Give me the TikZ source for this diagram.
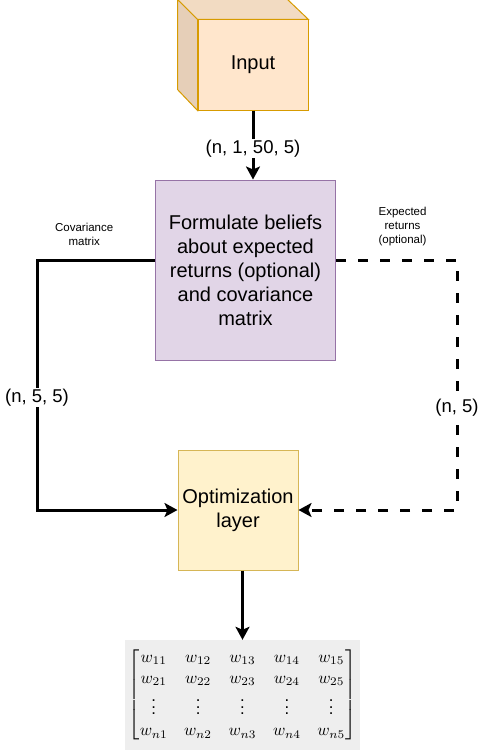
\documentclass[tikz,border=0pt]{standalone}
\usepackage{amsmath}
\usepackage{graphicx}
\usepackage[no-math]{fontspec}
\setmainfont{Liberation Sans}
\usetikzlibrary{arrows.meta,positioning}

\definecolor{inFill}{HTML}{FFE6CC}
\definecolor{inTop}{HTML}{F2DBC2}
\definecolor{inSide}{HTML}{E6CFB8}
\definecolor{inLine}{HTML}{D79B00}
\definecolor{belFill}{HTML}{E1D5E7}
\definecolor{belLine}{HTML}{9673A6}
\definecolor{optFill}{HTML}{FFF2CC}
\definecolor{optLine}{HTML}{D6B656}
\definecolor{matFill}{HTML}{EEEEEE}

\begin{document}
\begin{tikzpicture}[x=1pt,y=-1pt,
    box/.style={draw,line width=1pt,align=center,inner sep=0pt,
      font=\fontsize{20}{24}\selectfont},
    arr/.style={line width=3pt,-{Stealth[length=13pt,width=14pt,inset=3pt]}},
    dashline/.style={dash pattern=on 10pt off 12pt},
    lbl/.style={fill=white,inner sep=1pt,font=\fontsize{18.5}{22}\selectfont},
    note/.style={align=center,font=\fontsize{11.5}{14}\selectfont}]
    \useasboundingbox (0,0) rectangle (484,752);

    \node[box,fill=inFill,draw=inLine,minimum width=110,minimum height=90]
    (in) at (253,65) {Input};
    \filldraw[fill=inTop,draw=inLine,line width=1pt]
    (in.north west) -- ++(-20,-20) -- ++(110,0) -- (in.north east) -- cycle;
    \filldraw[fill=inSide,draw=inLine,line width=1pt]
    (in.north west) -- ++(-20,-20) -- ++(0,90) -- (in.south west) -- cycle;

    \node[box,fill=belFill,draw=belLine,minimum size=180]
    (bel) at (245.5,270) {Formulate beliefs\\about expected\\returns (optional)\\and covariance\\matrix};
    \node[box,fill=optFill,draw=optLine,minimum size=120]
    (opt) at (238,510) {Optimization\\layer};
    \node[fill=matFill,minimum width=235,minimum height=110,inner sep=0pt]
    (w) at (242.5,695) {\scalebox{1.67}{\setlength{\arraycolsep}{5pt}%
      \renewcommand{\arraystretch}{1.05}$\begin{bmatrix}
        w_{11} & w_{12} & w_{13} & w_{14} & w_{15}\\
        w_{21} & w_{22} & w_{23} & w_{24} & w_{25}\\
        \vdots & \vdots & \vdots & \vdots & \vdots\\
        w_{n1} & w_{n2} & w_{n3} & w_{n4} & w_{n5}
      \end{bmatrix}$}};

    \coordinate (covL) at (37,260);
    \coordinate (expR) at (457,260);

    \draw[arr] (in.south) -- node[lbl,pos=.55] {(n, 1, 50, 5)} (in.south |- bel.north);
    \draw[arr] (bel.west |- covL)
    -- node[note,above=10pt,pos=.6] {Covariance\\matrix} (covL)
    -- node[lbl,pos=.55] {(n, 5, 5)} (covL |- opt.west) -- (opt.west);
    \draw[arr,dashline] (bel.east |- expR)
    -- node[note,above=9pt,pos=.55] {Expected\\returns\\(optional)} (expR)
    -- node[lbl,pos=.59] {(n, 5)} (expR |- opt.east) -- (opt.east);
    \draw[arr] (opt.south -| w.north) -- (w.north);
  \end{tikzpicture}
\end{document}
